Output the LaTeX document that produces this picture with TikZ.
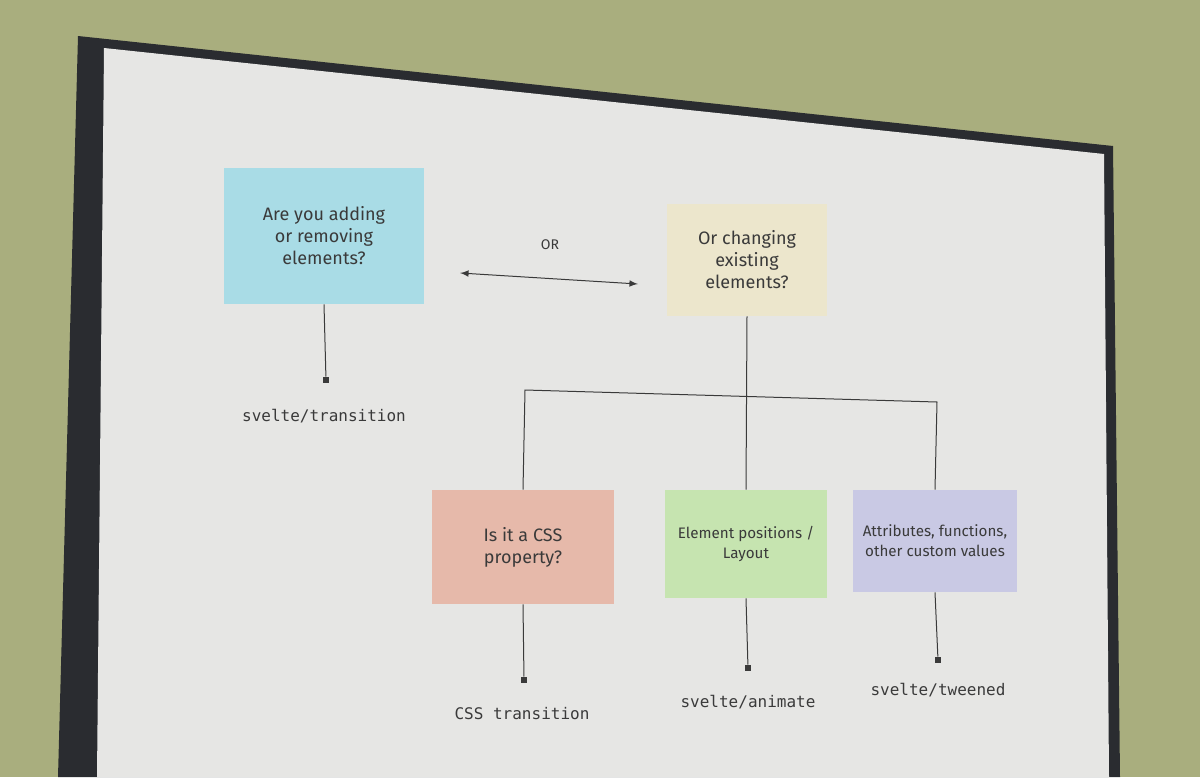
\documentclass[tikz,border=0pt]{standalone}
\usepackage{fontspec}
\setmainfont{Fira Sans}
\setmonofont{DejaVu Sans Mono}
\definecolor{curtain}{HTML}{A9AE7E}
\definecolor{frame}{HTML}{2A2C30}
\definecolor{slide}{HTML}{E6E6E4}
\definecolor{cblue}{HTML}{A9DCE6}
\definecolor{ccream}{HTML}{ECE6CC}
\definecolor{cred}{HTML}{E6B9AA}
\definecolor{cgreen}{HTML}{C6E4B0}
\definecolor{cpurple}{HTML}{C9C9E4}
\definecolor{ink}{HTML}{3A3A3A}
\tikzset{
  qbox/.style={fill=#1, draw=none, align=center, text=ink, font=\fontsize{9}{11}\selectfont},
  sbox/.style={fill=#1, draw=none, align=center, text=ink, inner xsep=0pt, font=\fontsize{7.6}{10}\selectfont},
  code/.style={font=\ttfamily\fontsize{8}{10}\selectfont, text=ink},
  ln/.style={draw=ink, line width=0.5pt},
  endsq/.style={fill=ink, minimum size=3pt, inner sep=0pt}
}
\begin{document}
\begin{tikzpicture}[x=0.5pt,y=-0.5pt]
\useasboundingbox (0,0) rectangle (1200,777);
\fill[curtain] (0,0) rectangle (1200,777);
\fill[frame] (78,36) -- (1113,146) -- (1120,777) -- (58,777) -- cycle;
\fill[slide] (104,48) -- (1104,154) -- (1109,777) -- (97,777) -- cycle;
% boxes
\node[qbox=cblue, minimum width=100pt, minimum height=68pt] (a) at (324,236) {Are you adding\\or removing\\elements?};
\node[qbox=ccream, minimum width=80pt, minimum height=56pt] (b) at (747,260) {Or changing\\existing\\elements?};
\node[font=\fontsize{7}{8}\selectfont, text=ink] (or) at (550,245) {OR};
\coordinate (l) at (460,273);
\coordinate (r) at (638,284);
\draw[ln, <->, >=latex] (l) -- (r);
\node[endsq] (s1) at (326,380) {};
\draw[ln] (a.south) -- (s1);
\node[code] (t1) at (324,416) {svelte/transition};
\node[qbox=cred, minimum width=91pt, minimum height=57pt] (c) at (523,547) {Is it a CSS\\property?};
\node[sbox=cgreen, minimum width=81pt, minimum height=54pt] (d) at (746,544) {Element positions /\\Layout};
\node[sbox=cpurple, minimum width=82pt, minimum height=51pt] (e) at (935,541) {Attributes, functions,\\other custom values};
\coordinate (j1) at (525,390);
\coordinate (j2) at (748,396);
\coordinate (j3) at (937,402);
\draw[ln] (b.south) -- (d.north);
\draw[ln] (c.north) -- (j1) -- (j3) -- (e.north);
\node[endsq] (s2) at (524,680) {};
\node[endsq] (s3) at (748,668) {};
\node[endsq] (s4) at (938,660) {};
\draw[ln] (c.south) -- (s2);
\draw[ln] (d.south) -- (s3);
\draw[ln] (e.south) -- (s4);
\node[code] (t2) at (522,714) {CSS transition};
\node[code] (t3) at (748,702) {svelte/animate};
\node[code] (t4) at (938,690) {svelte/tweened};
\end{tikzpicture}
\end{document}
